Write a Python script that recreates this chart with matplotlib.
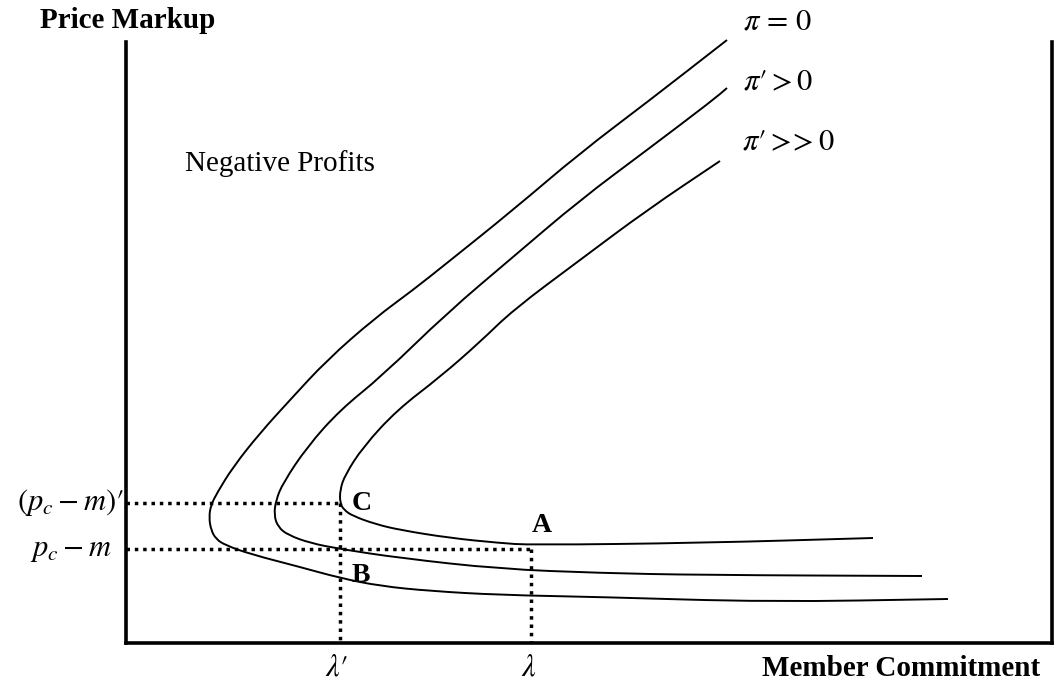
import matplotlib
matplotlib.use("Agg")
import matplotlib.pyplot as plt
from matplotlib.path import Path
from matplotlib.patches import PathPatch
import numpy as np

plt.rcParams['font.family'] = ['Liberation Serif', 'DejaVu Serif']
plt.rcParams['mathtext.fontset'] = 'stix'

# iso-profit curves (x = commitment, y = markup, pixel units)
pi0_x = [727, 650, 580, 513, 447, 413, 375, 327, 290, 260, 233, 217, 211, 209, 211, 216, 225, 250, 300, 340, 380, 430, 500, 600, 770, 948]
pi0_y = [40, 100, 153, 210, 263, 290, 318, 360, 400, 433, 467, 493, 505, 517, 530, 539, 545, 554, 567, 578, 586, 591, 595, 597, 602, 599]

pi1_x = [727, 713, 647, 580, 513, 447, 382, 340, 307, 283, 276, 274, 278, 288, 310, 340, 400, 500, 600, 700, 922]
pi1_y = [88, 100, 150, 200, 257, 313, 376, 410, 447, 483, 500, 515, 527, 535, 543, 549, 558, 569, 573, 575, 576]

pi2_x = [720, 647, 580, 513, 480, 440, 397, 363, 345, 340, 340, 344, 353, 375, 400, 450, 500, 530, 700, 873]
pi2_y = [161, 210, 260, 310, 342, 377, 410, 447, 475, 490, 503, 510, 516, 524, 530, 538, 543, 545, 543, 538]

curve_labels = [r"$\pi\,=\,0$", r"$\pi\prime > 0$", r"$\pi\prime >\!\!> 0$"]

# reference levels
markup_c = 503      # (p_c - m)'
markup_a = 549      # p_c - m
lam_c = 340         # lambda'
lam_a = 531         # lambda


def smooth(xs, ys):
    # quadratic bezier through midpoints so the curve looks hand-drawn smooth
    p = np.column_stack([xs, ys]).astype(float)
    verts = [p[0], (p[0] + p[1]) / 2]
    codes = [Path.MOVETO, Path.LINETO]
    for i in range(1, len(p) - 1):
        verts += [p[i], (p[i] + p[i + 1]) / 2]
        codes += [Path.CURVE3, Path.CURVE3]
    verts.append(p[-1])
    codes.append(Path.LINETO)
    return Path(verts, codes)


fig = plt.figure(figsize=(10.58, 6.86), dpi=100)
x0, x1, y_top, y_bot = 126, 1052, 42, 643
ax = fig.add_axes([x0 / 1058, 1 - y_bot / 686, (x1 - x0) / 1058, (y_bot - y_top) / 686])
ax.set_xlim(x0, x1)
ax.set_ylim(y_bot, y_top)
ax.set_xticks([])
ax.set_yticks([])
ax.spines['top'].set_visible(False)
for s in ['left', 'bottom', 'right']:
    ax.spines[s].set_linewidth(2.6)
ax.patch.set_alpha(0)

for xs, ys in [(pi0_x, pi0_y), (pi1_x, pi1_y), (pi2_x, pi2_y)]:
    ax.add_patch(PathPatch(smooth(xs, ys), fill=False, edgecolor='black', lw=1.4, clip_on=False))

dot = dict(color='black', lw=2.5, linestyle=(0, (1.0, 1.4)), dash_capstyle='butt', clip_on=False)
ax.plot([x0, lam_c], [markup_c, markup_c], **dot)
ax.plot([lam_c, lam_c], [markup_c, y_bot], **dot)
ax.plot([x0, lam_a], [markup_a, markup_a], **dot)
ax.plot([lam_a, lam_a], [markup_a, y_bot], **dot)

# curve labels
for (lx, ly), lab in zip([(743, 22), (743, 83), (742, 143)], curve_labels):
    ax.text(lx, ly, lab, fontsize=22, ha='left', va='center', clip_on=False)

ax.text(362, 503, 'C', fontsize=20, fontweight='bold', ha='center', va='center')
ax.text(542, 526, 'A', fontsize=20, fontweight='bold', ha='center', va='center')
ax.text(361, 576, 'B', fontsize=20, fontweight='bold', ha='center', va='center')

ax.text(280, 164, 'Negative Profits', fontsize=21, ha='center', va='center')

ax.text(124, 503, r"$(p_c - m)\prime$", fontsize=22, ha='right', va='center', clip_on=False)
ax.text(112, 549, r"$p_c - m$", fontsize=22, ha='right', va='center', clip_on=False)
ax.text(336, 668, r"$\lambda\prime$", fontsize=22, ha='center', va='center', clip_on=False)
ax.text(529, 668, r"$\lambda$", fontsize=22, ha='center', va='center', clip_on=False)

ax.text(128, 20, 'Price Markup', fontsize=21, fontweight='bold', ha='center', va='center', clip_on=False)
ax.text(901, 668, 'Member Commitment', fontsize=21, fontweight='bold', ha='center', va='center', clip_on=False)

fig.savefig('out.png', dpi=100)
